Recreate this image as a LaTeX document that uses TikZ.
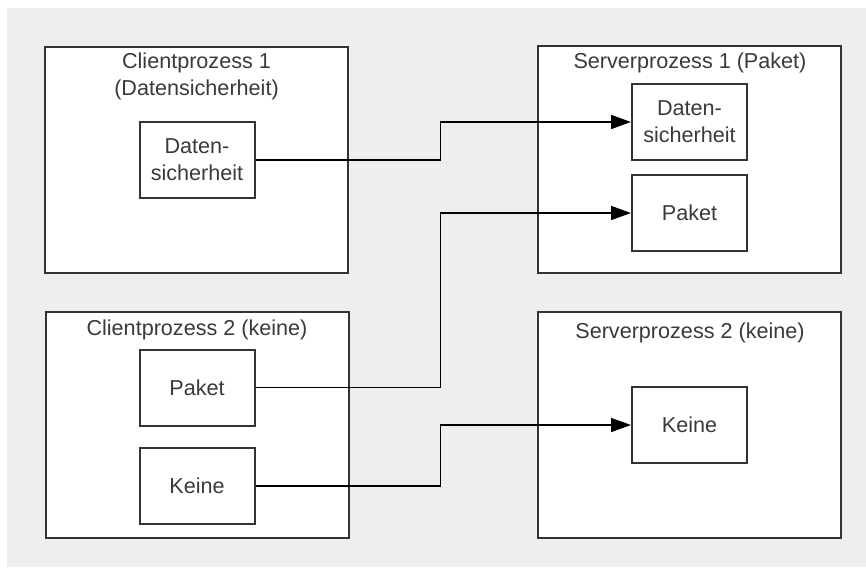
\documentclass[tikz,border=0pt]{standalone}
\usepackage{fontspec}
\setmainfont{Liberation Sans}
\usetikzlibrary{arrows.meta}
\definecolor{bggray}{HTML}{EEEEEE}
\definecolor{txtgray}{HTML}{3A3A3A}
\tikzset{procbox/.style={draw=black!80, line width=1pt, fill=white,
           minimum width=151.5pt, minimum height=113pt, inner sep=0pt},
         modbox/.style={draw=black!80, line width=1pt, fill=white,
           minimum width=57.5pt, minimum height=38pt, inner sep=0pt,
           align=center, text=txtgray, font=\fontsize{10.8}{13.5}\selectfont},
         title/.style={align=center, text=txtgray, inner sep=0pt,
           font=\fontsize{10.8}{13.5}\selectfont},
         conn/.style={line width=0.8pt, -{Triangle[length=10pt,width=7pt]}}}

\begin{document}
\begin{tikzpicture}[x=0.5pt, y=-0.5pt]
    \useasboundingbox (0,0) rectangle (866,567);
    \fill[bggray] (7,8) rectangle (866,567);

    % the four processes
    \node[procbox] (c1) at (196.5,160) {};
    \node[procbox] (c2) at (197,425) {};
    \node[procbox] (s1) at (689.5,159.5) {};
    \node[procbox] (s2) at (689.5,425) {};

    \node[title] (c1t) at (196.5,76.5) {Clientprozess 1\\(Datensicherheit)};
    \node[title] (c2t) at (197,330) {Clientprozess 2 (keine)};
    \node[title] (s1t) at (690,63) {Serverprozess 1 (Paket)};
    \node[title] (s2t) at (690,333) {Serverprozess 2 (keine)};

    % modules on the client side
    \node[modbox] (cd) at (197,160) {Daten-\\sicherheit};
    \node[modbox] (cp) at (197,387.5) {Paket};
    \node[modbox] (ck) at (197,486) {Keine};

    % modules on the server side
    \node[modbox] (sd) at (689.5,122) {Daten-\\sicherheit};
    \node[modbox] (sp) at (689.5,213) {Paket};
    \node[modbox] (sk) at (689.5,425) {Keine};

    \draw[conn] (cd.east) -- ++(185,0) |- (sd.west);
    \draw[conn] (cp.east) -- ++(185,0) |- (sp.west);
    \draw[conn] (ck.east) -- ++(185,0) |- (sk.west);
\end{tikzpicture}
\end{document}
